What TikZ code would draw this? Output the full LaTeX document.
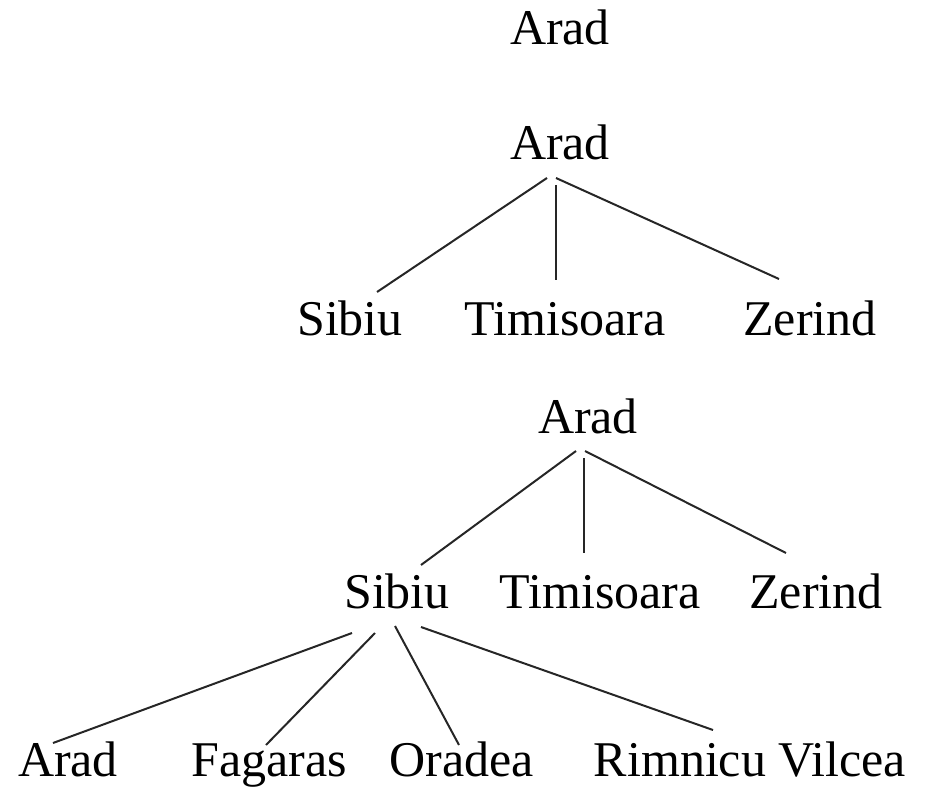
\documentclass[tikz,border=0pt]{standalone}
\usepackage{fontspec}
\setmainfont{Liberation Serif}
\usetikzlibrary{calc}
\begin{document}
\begin{tikzpicture}[x=1pt,y=-1pt,
  city/.style={anchor=base,inner sep=0pt,font=\fontsize{50}{60}\selectfont},
  edge/.style={line width=2pt,draw=black!85}]
\useasboundingbox (0,0) rectangle (925,786);
\node[city] (a0) at (560,45) {Arad};
\node[city] (a1) at (560,160) {Arad};
\node[city] (s1) at (350,335) {Sibiu};
\node[city] (t1) at (565,335) {Timisoara};
\node[city] (z1) at (810,335) {Zerind};
\node[city] (a2) at (588,433) {Arad};
\node[city] (s2) at (397,608) {Sibiu};
\node[city] (t2) at (600,608) {Timisoara};
\node[city] (z2) at (816,608) {Zerind};
\node[city] (r1) at (68,776) {Arad};
\node[city] (r2) at (269,776) {Fagaras};
\node[city] (r3) at (462,776) {Oradea};
\node[city] (r4) at (750,776) {Rimnicu Vilcea};
% tree 1
\draw[edge] ($(a1.base)+(-13,18)$) -- ($(s1.base)+(27,-43)$);
\draw[edge] ($(a1.base)+(-4,25)$) -- ($(t1.base)+(-9,-55)$);
\draw[edge] ($(a1.base)+(-4,18)$) -- ($(z1.base)+(-31,-56)$);
% tree 2
\draw[edge] ($(a2.base)+(-12,18)$) -- ($(s2.base)+(24,-43)$);
\draw[edge] ($(a2.base)+(-4,25)$) -- ($(t2.base)+(-16,-55)$);
\draw[edge] ($(a2.base)+(-3,18)$) -- ($(z2.base)+(-30,-55)$);
\draw[edge] ($(s2.base)+(-45,25)$) -- ($(r1.base)+(-15,-33)$);
\draw[edge] ($(s2.base)+(-22,25)$) -- ($(r2.base)+(-3,-31)$);
\draw[edge] ($(s2.base)+(-2,18)$) -- ($(r3.base)+(-3,-31)$);
\draw[edge] ($(s2.base)+(24,19)$) -- ($(r4.base)+(-37,-46)$);
\end{tikzpicture}
\end{document}
